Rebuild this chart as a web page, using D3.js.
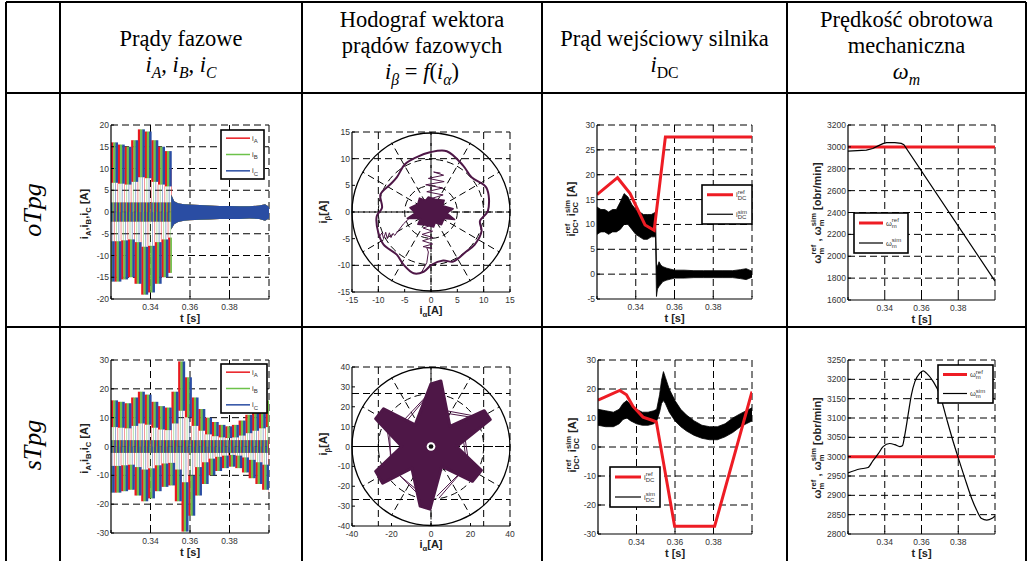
<!DOCTYPE html>
<html>
<head>
<meta charset="utf-8">
<script src="https://cdnjs.cloudflare.com/ajax/libs/d3/7.8.5/d3.min.js"></script>
<style>
  body { margin: 0; background: #fff; }
  svg { display: block; }
</style>
</head>
<body>
<div id="chart"></div>
<script>
// ---- data ----
const rowLabels = ['oTpg', 'sTpg'];

const tTicks = [0.32, 0.34, 0.36, 0.38, 0.40];
const tTickLabels = ['', '0.34', '0.36', '0.38', ''];

// phase currents: peak of every electrical period (A), period (s)
const phaseStart = 0.32;
const phasePeriod1 = 0.0034;
const phaseAmp1 = [16, 15.5, 15, 16.5, 19, 18.5, 16.5, 15, 14, 10];
const phaseEnd1 = 0.3507;
const tail1T = [0.3505, 0.352, 0.354, 0.357, 0.36, 0.365, 0.37, 0.375, 0.38, 0.385, 0.39, 0.395, 0.398, 0.40];
const tail1Hi = [4, 2.5, 2, 1.8, 1.7, 1.6, 1.5, 1.4, 1.4, 1.3, 1.3, 1.5, 1.8, 1.2];
const tail1Lo = [-4, -2.8, -2.3, -2, -1.9, -1.8, -1.7, -1.6, -1.6, -1.6, -1.5, -1.6, -2, -1.5];
const phasePeriod2 = 0.0034;
const phaseAmp2 = [16, 15.5, 15, 17, 19, 18, 15.5, 14, 13.5, 19, 29.5, 24, 17, 13, 10, 8.5, 7.5, 7, 7.5, 9, 11, 13, 15, 16];
const plateauFloor = 0.42;   // lower edge of a conduction plateau, share of its peak
const zeroBand = 2.2;        // ripple of a non-conducting phase (A)
const phaseTicks1 = [-20, -15, -10, -5, 0, 5, 10, 15, 20];
const phaseTicks2 = [-30, -20, -10, 0, 10, 20, 30];

// hodograph, oTpg
const hodo1LoopX = [3.0, 6.1, 7.7, 10.5, 10.8, 9.3, 9.6, 8.3, 6.7, 4.2, 2.3, 0.1, -1.4, -3.3, -5.2, -6.5, -9.0, -10.0, -10.3, -9.3, -9.6, -7.7, -6.5, -4.9, -2.7, -0.2];
const hodo1LoopY = [11.4, 8.7, 6.5, 4.6, 0.2, -1.7, -3.6, -6.1, -7.4, -9.3, -9.1, -9.9, -11.2, -11.5, -9.9, -8.0, -6.1, -3.9, -0.8, 0.8, 3.3, 5.2, 6.5, 9.0, 10.3, 11.2];
const hodo1CoreX = [-4, -2.5, -2.2, -1, -0.5, 0.8, 2.5, 2.2, 4.2, 3, 4.5, 2.5, 2, 0.8, 0.5, -0.8, -2.5, -2, -4.5, -3];
const hodo1CoreY = [0.8, 1.5, 2.6, 2.2, 2.8, 2.4, 2.2, 1.2, 0.6, -0.2, -1.4, -1.2, -2.4, -2, -2.8, -2.5, -2.3, -1.2, -1.2, -0.2];
const hodo1UpX = [0, 2.3, -0.8, 2.2, -1, 2.5, -0.5, 2.4, 0.5, 1.8];
const hodo1UpY = [2.5, 3.2, 3.8, 4.5, 5.1, 5.7, 6.3, 6.9, 7.5, 7.3];
const hodo1DownX = [0, -1.5, 0.3, -1.7, 0.4, -1.6, 0.3, -1.5, 0.2, -0.8, -0.5, -0.8, -1.8];
const hodo1DownY = [-2.5, -3, -3.6, -4.2, -4.8, -5.4, -6, -6.5, -6.8, -6.7, -7.5, -9.5, -11.3];
const hodo1LeftX = [-9.8, -9.3, -9, -8.6, -8.3, -7.9, -7.6, -7.2, -6.9, -5.2, -3.3];
const hodo1LeftY = [-4.6, -3.9, -5, -3.8, -5, -3.9, -4.8, -4, -4.4, -2.2, -0.4];
const hodo1Ticks = [-15, -10, -5, 0, 5, 10, 15];

// hodograph, sTpg
const hodo2StarX = [0, 5, 9.6, 27, 30, 12.9, 25.5, 21, 5.4, -0.5, -5.5, -9.7, -24.5, -28, -14.8, -28, -24, -8];
const hodo2StarY = [31.5, 33, 10.1, 18, 13.5, 0, -12, -17.5, -10, -31.5, -30, -10.9, -18.5, -12.5, 0, 14, 19, 10.9];
const hodo2ChordX1 = [3, 2, 5, 6, 15.5, 16.5, 18, 17, -22.4, -21, -17, -16];
const hodo2ChordY1 = [31, 30, 18.5, 17, 10, 9, -10, -11, 10, 9, -13.4, -14.5];
const hodo2ChordX2 = [-14, -13, 24, 25, 18, 19, 3, 4, -19.8, -20.5, -5.5, -4.5];
const hodo2ChordY2 = [13, 12, 15, 14, -8.4, -7.5, -25, -26, -7.6, -6.5, -25, -24];
const hodo2TicksY = [-40, -30, -20, -10, 0, 10, 20, 30, 40];
const hodo2TicksX = [-40, -20, 0, 20, 40];

// DC current
const idcRef1T = [0.32, 0.3306, 0.3371, 0.3448, 0.3495, 0.3553, 0.40];
const idcRef1V = [16, 19.4, 16.2, 9.9, 8.8, 27.6, 27.6];
const idcSim1T = [0.32, 0.322, 0.324, 0.326, 0.328, 0.330, 0.332, 0.334, 0.336, 0.338, 0.340, 0.342, 0.344, 0.346, 0.348, 0.3495, 0.3502, 0.3507, 0.3512, 0.352, 0.353, 0.354, 0.356, 0.358, 0.36, 0.365, 0.37, 0.375, 0.38, 0.385, 0.39, 0.394, 0.397, 0.40];
const idcSim1Hi = [13.5, 13, 13, 12.5, 13, 13, 14.5, 16.2, 15.5, 14, 13, 12.5, 12, 12, 12, 12.3, 12.5, 2, 1.5, 2.5, 1.8, 1.5, 1.2, 1, 0.8, 0.8, 0.7, 0.7, 0.7, 0.7, 0.7, 0.9, 1.1, 0.6];
const idcSim1Lo = [8, 8.5, 8.5, 8, 8.5, 8.5, 9, 10, 10, 9, 8, 7.5, 7, 7, 7.5, 7.5, 7.5, -4.5, -3, -2.5, -2, -1.5, -1.2, -1, -0.8, -0.8, -0.7, -0.7, -0.7, -0.7, -0.7, -0.9, -1.1, -0.6];
const idcRef2T = [0.32, 0.3313, 0.3348, 0.3382, 0.3434, 0.3477, 0.3503, 0.3598, 0.3806, 0.40];
const idcRef2V = [16.2, 19.5, 18, 14, 10.3, 9.3, 8.7, -27.3, -27.3, 19.1];
const idcSim2T = [0.32, 0.324, 0.328, 0.331, 0.333, 0.335, 0.337, 0.34, 0.343, 0.346, 0.349, 0.3505, 0.352, 0.353, 0.354, 0.355, 0.357, 0.36, 0.363, 0.366, 0.37, 0.374, 0.378, 0.382, 0.386, 0.39, 0.394, 0.397, 0.40];
const idcSim2Hi = [13, 12.5, 12, 13, 15, 16, 14.5, 13, 12, 12, 12.5, 13, 18, 23, 26, 24, 20, 16, 13, 11, 9, 7.5, 7, 7, 8, 10, 11.5, 12.5, 13.5];
const idcSim2Lo = [7.5, 7, 7, 8, 9.5, 10, 9, 8, 7.5, 7.5, 8, 9, 12, 15, 16, 15, 12, 9, 7, 5.5, 4, 3, 2.5, 2.5, 3.5, 5, 7, 8, 9];
const idcTicks1 = [-5, 0, 5, 10, 15, 20, 25, 30];
const idcTicks2 = [-30, -20, -10, 0, 10, 20, 30];

// mechanical speed
const speedRef = 3000;
const speed1T = [0.32, 0.33, 0.3335, 0.3355, 0.339, 0.341, 0.3455, 0.349, 0.3504, 0.40];
const speed1V = [2962, 2971, 2985, 3002, 3030, 3038, 3038, 3032, 3020, 1773];
const speed2T = [0.32, 0.3264, 0.3309, 0.3336, 0.3364, 0.3391, 0.3427, 0.3455, 0.3482, 0.3496, 0.3509, 0.3527, 0.3545, 0.3564, 0.3591, 0.3609, 0.3627, 0.3664, 0.37, 0.3736, 0.3773, 0.38, 0.3836, 0.3873, 0.39, 0.3927, 0.3955, 0.3982, 0.40];
const speed2V = [2958, 2968, 2972, 2990, 3007, 3026, 3034, 3031, 3026, 3028, 3056, 3108, 3160, 3194, 3216, 3222, 3216, 3194, 3160, 3099, 3038, 2997, 2944, 2892, 2862, 2840, 2836, 2840, 2847];
const speedTicks1 = [1600, 1800, 2000, 2200, 2400, 2600, 2800, 3000, 3200];
const speedTicks2 = [2800, 2850, 2900, 2950, 3000, 3050, 3100, 3150, 3200, 3250];

// ---- styles ----
const phaseColors = ['#e8191e', '#6cc24a', '#2a4da3'];
const refColor = '#ee1c24';
const hodoColor = '#4e1747';
const sans = 'Liberation Sans, Arial, sans-serif';
const serif = 'Liberation Serif, Times New Roman, serif';

const W = 1028, H = 561;
const svg = d3.select('#chart').append('svg').attr('width', W).attr('height', H);

// ---- helpers ----
function rich(parent, parts, o) {
  const g = parent.append('g')
    .attr('font-family', o.family).attr('font-weight', o.weight || 'normal')
    .attr('fill', o.fill || '#000');
  const fs = o.size, ss = fs * (o.script || 0.7);
  let x = 0;
  parts.forEach(p => {
    if (p.t) {
      const t = g.append('text').attr('x', x).attr('y', 0).attr('font-size', fs)
        .attr('font-style', p.it ? 'italic' : 'normal').text(p.t.replace(/ /g, '\u00a0'));
      x += t.node().getComputedTextLength();
    }
    if (p.sub || p.sup) {
      let w = 0;
      if (p.sup) {
        const t = g.append('text').attr('x', x).attr('y', -fs * 0.42).attr('font-size', ss)
          .attr('font-style', p.supIt ? 'italic' : 'normal').text(p.sup);
        w = Math.max(w, t.node().getComputedTextLength());
      }
      if (p.sub) {
        const t = g.append('text').attr('x', x).attr('y', fs * (o.subDrop || 0.3)).attr('font-size', ss)
          .attr('font-style', p.subIt ? 'italic' : 'normal').text(p.sub);
        w = Math.max(w, t.node().getComputedTextLength());
      }
      x += w;
    }
  });
  return { g, w: x };
}
function place(r, x, y, rot, anchor) {
  const dx = anchor === 'start' ? 0 : anchor === 'end' ? -r.w : -r.w / 2;
  r.g.attr('transform', `translate(${x},${y}) rotate(${rot || 0}) translate(${dx},0)`);
}

let clipN = 0;
function makeAxes(box, xDom, yDom) {
  const [x0, x1, y0, y1] = box;
  const x = d3.scaleLinear().domain(xDom).range([x0, x1]);
  const y = d3.scaleLinear().domain(yDom).range([y1, y0]);
  const g = svg.append('g');
  const id = 'clip' + (clipN++);
  g.append('clipPath').attr('id', id).append('rect')
    .attr('x', x0).attr('y', y0).attr('width', x1 - x0).attr('height', y1 - y0);
  return { x, y, g, box, id };
}
function grid(ax, gx, gy) {
  const [x0, x1, y0, y1] = ax.box;
  const gg = ax.g.append('g').attr('stroke', '#000').attr('stroke-width', 1)
    .attr('stroke-dasharray', '7,4').attr('fill', 'none');
  gg.selectAll(null).data(gx).join('line')
    .attr('x1', d => ax.x(d)).attr('x2', d => ax.x(d)).attr('y1', y0).attr('y2', y1);
  gg.selectAll(null).data(gy).join('line')
    .attr('y1', d => ax.y(d)).attr('y2', d => ax.y(d)).attr('x1', x0).attr('x2', x1);
}
function frame(ax, xt, xl, yt, yl) {
  const [x0, x1, y0, y1] = ax.box;
  const g = ax.g.append('g');
  g.append('line').attr('x1', x0).attr('x2', x0).attr('y1', y0).attr('y2', y1).attr('stroke', '#000').attr('stroke-width', 1.2);
  g.append('line').attr('x1', x0).attr('x2', x1).attr('y1', y1).attr('y2', y1).attr('stroke', '#000').attr('stroke-width', 1.2);
  g.selectAll(null).data(xt).join('line')
    .attr('x1', d => ax.x(d)).attr('x2', d => ax.x(d)).attr('y1', y1).attr('y2', y1 - 3).attr('stroke', '#000');
  g.selectAll(null).data(yt).join('line')
    .attr('y1', d => ax.y(d)).attr('y2', d => ax.y(d)).attr('x1', x0).attr('x2', x0 + 3).attr('stroke', '#000');
  g.selectAll(null).data(xt).join('text')
    .attr('x', d => ax.x(d)).attr('y', y1 + 11).attr('text-anchor', 'middle')
    .attr('font-family', sans).attr('font-size', 8.5).attr('fill', '#333')
    .text((d, i) => xl[i]);
  g.selectAll(null).data(yt).join('text')
    .attr('x', x0 - 2).attr('y', d => ax.y(d) + 3).attr('text-anchor', 'end')
    .attr('font-family', sans).attr('font-size', 8.5).attr('fill', '#333')
    .text((d, i) => yl[i]);
}
function axisLabels(ax, xParts, xy, yParts, yx, yy) {
  const o = { family: sans, size: 11, weight: 'bold', fill: '#222' };
  const rx = rich(ax.g, xParts, o);
  place(rx, (ax.box[0] + ax.box[1]) / 2, xy, 0);
  const ry = rich(ax.g, yParts, o);
  place(ry, yx, yy, -90);
}
function legend(ax, lb, entries, sample) {
  const g = ax.g.append('g');
  g.append('rect').attr('x', lb[0]).attr('y', lb[2]).attr('width', lb[1] - lb[0]).attr('height', lb[3] - lb[2])
    .attr('fill', '#fff').attr('stroke', '#000').attr('stroke-width', 1.6);
  const h = (lb[3] - lb[2]) / entries.length;
  entries.forEach((e, i) => {
    const cy = lb[2] + h * (i + 0.5);
    g.append('line').attr('x1', lb[0] + sample[0]).attr('x2', lb[0] + sample[1])
      .attr('y1', cy).attr('y2', cy).attr('stroke', e.color).attr('stroke-width', e.width);
    const r = rich(g, e.label, { family: sans, size: 7.5, fill: '#333', script: 0.8 });
    place(r, lb[0] + sample[2], cy + 2.5, 0, 'start');
  });
}
const zip = (a, b) => a.map((v, i) => [v, b[i]]);

// ---- table ----
const colX = [6, 60, 302, 542, 787, 1026];
const rowY = [2, 93, 327, 563];
const tbl = svg.append('g').attr('stroke', '#000').attr('stroke-width', 2);
tbl.selectAll(null).data(colX).join('line')
  .attr('x1', d => d).attr('x2', d => d).attr('y1', rowY[0]).attr('y2', rowY[3]);
tbl.selectAll(null).data(rowY).join('line')
  .attr('y1', d => d).attr('y2', d => d).attr('x1', colX[0]).attr('x2', colX[5]);

const headers = [
  [[{ t: 'Prądy fazowe' }],
   [{ t: 'i', it: 1, sub: 'A', subIt: 1 }, { t: ', ' }, { t: 'i', it: 1, sub: 'B', subIt: 1 }, { t: ', ' }, { t: 'i', it: 1, sub: 'C', subIt: 1 }]],
  [[{ t: 'Hodograf wektora' }], [{ t: 'prądów fazowych' }],
   [{ t: 'i', it: 1, sub: 'β', subIt: 1 }, { t: ' = ' }, { t: 'f', it: 1 }, { t: '(' }, { t: 'i', it: 1, sub: 'α', subIt: 1 }, { t: ')' }]],
  [[{ t: 'Prąd wejściowy silnika' }], [{ t: 'i', it: 1, sub: 'DC' }]],
  [[{ t: 'Prędkość obrotowa' }], [{ t: 'mechaniczna' }], [{ t: 'ω', it: 1, sub: 'm', subIt: 1 }]]
];
headers.forEach((lines, c) => {
  const cx = (colX[c + 1] + colX[c + 2]) / 2;
  const base = lines.length === 2 ? [46, 72] : [27, 53, 79];
  lines.forEach((parts, i) => {
    const r = rich(svg, parts, { family: serif, size: 22.5, subDrop: 0.25 });
    place(r, cx, base[i], 0);
  });
});
rowLabels.forEach((lab, i) => {
  const cy = (rowY[i + 1] + rowY[i + 2]) / 2;
  const r = rich(svg, [{ t: lab, it: 1 }], { family: serif, size: 26 });
  place(r, 41, cy, -90);
});

// ---- phase currents ----
function phasePlot(box, yDom, yt, period, amps, tEnd, legBox) {
  const ax = makeAxes(box, [0.32, 0.40], yDom);
  grid(ax, [0.34, 0.36, 0.38, 0.40], yt.filter(v => v > yDom[0]));
  const dg = ax.g.append('g').attr('clip-path', `url(#${ax.id})`);
  const pattern = [[0, 1 / 3, 1], [1 / 3, 1 / 2, 0], [1 / 2, 5 / 6, -1], [5 / 6, 1, 0]];
  phaseColors.forEach((col, ph) => {
    const rects = [];
    for (let k = -1; k < amps.length; k++) {
      const a = amps[Math.max(k, 0)];
      const ts = phaseStart + (k + ph / 3) * period;
      pattern.forEach(([f0, f1, s]) => {
        const t0 = ts + f0 * period, t1 = Math.min(ts + f1 * period, tEnd);
        if (t1 <= t0) return;
        const lo = s === 0 ? -zeroBand : s > 0 ? a * plateauFloor : -a;
        const hi = s === 0 ? zeroBand : s > 0 ? a : -a * plateauFloor;
        rects.push({ t0, t1, lo, hi });
      });
    }
    dg.selectAll(null).data(rects).join('line')
      .attr('x1', d => ax.x(d.t0)).attr('x2', d => ax.x(d.t0))
      .attr('y1', ax.y(0)).attr('y2', d => ax.y(d.hi > 0 ? d.lo : d.hi))
      .attr('stroke', col).attr('stroke-width', 0.8).attr('opacity', 0.6);
    dg.selectAll(null).data(rects).join('rect')
      .attr('x', d => ax.x(d.t0)).attr('width', d => ax.x(d.t1) - ax.x(d.t0) + 0.3)
      .attr('y', d => ax.y(d.hi)).attr('height', d => ax.y(d.lo) - ax.y(d.hi))
      .attr('fill', col);
  });
  return { ax, dg };
}
function phaseDecor(p, yt, legBox) {
  const ax = p.ax, box = ax.box;
  frame(ax, tTicks, tTickLabels, yt, yt.map(String));
  axisLabels(ax, [{ t: 't [s]' }], box[3] + 23,
    [{ t: 'i', sub: 'A' }, { t: ',' }, { t: 'i', sub: 'B' }, { t: ',' }, { t: 'i', sub: 'C' }, { t: ' [A]' }],
    box[0] - 23, (box[2] + box[3]) / 2 + 2);
  legend(ax, legBox, [
    { color: phaseColors[0], width: 1.5, label: [{ t: 'i', sub: 'A' }] },
    { color: phaseColors[1], width: 1.5, label: [{ t: 'i', sub: 'B' }] },
    { color: phaseColors[2], width: 1.5, label: [{ t: 'i', sub: 'C' }] }
  ], [5, 29, 31]);
}
const p1 = phasePlot([111, 269, 125, 299], [-20, 20], phaseTicks1, phasePeriod1, phaseAmp1, phaseEnd1);
phaseColors.forEach(col => {
  p1.dg.append('path')
    .attr('d', d3.area().x(d => p1.ax.x(d[0])).y0(d => p1.ax.y(d[2])).y1(d => p1.ax.y(d[1]))(tail1T.map((t, i) => [t, tail1Hi[i], tail1Lo[i]])))
    .attr('fill', col);
});
phaseDecor(p1, phaseTicks1, [221, 264, 130, 179]);
const p2 = phasePlot([111, 269, 360, 533], [-30, 30], phaseTicks2, phasePeriod2, phaseAmp2, 0.40);
phaseDecor(p2, phaseTicks2, [221, 267, 364, 413]);

// ---- hodographs ----
function polarGrid(ax, R) {
  const cx = ax.x(0), cy = ax.y(0), k = ax.x(1) - ax.x(0);
  const gg = ax.g.append('g').attr('fill', 'none').attr('stroke', '#000');
  gg.selectAll(null).data([R / 3, 2 * R / 3]).join('circle')
    .attr('cx', cx).attr('cy', cy).attr('r', d => d * k).attr('stroke-dasharray', '7,4');
  gg.selectAll(null).data(d3.range(0, 360, 30)).join('line')
    .attr('x1', cx).attr('y1', cy)
    .attr('x2', d => ax.x(R * Math.cos(d * Math.PI / 180)))
    .attr('y2', d => ax.y(R * Math.sin(d * Math.PI / 180)))
    .attr('stroke-dasharray', '7,4');
  gg.append('circle').attr('cx', cx).attr('cy', cy).attr('r', R * k).attr('stroke-width', 1.3);
}
function hodoFrame(ax, R) {
  grid(ax, [-2 * R / 3, 0, 2 * R / 3, R], [-2 * R / 3, 0, 2 * R / 3, R]);
  polarGrid(ax, R);
}
// oTpg
{
  const ax = makeAxes([352, 510, 132, 292], [-15, 15], [-15, 15]);
  hodoFrame(ax, 15);
  const dg = ax.g.append('g').attr('clip-path', `url(#${ax.id})`);
  const ln = d3.line().x(d => ax.x(d[0])).y(d => ax.y(d[1]));
  dg.append('path').attr('d', ln.curve(d3.curveCatmullRomClosed)(zip(hodo1LoopX, hodo1LoopY)))
    .attr('fill', 'none').attr('stroke', hodoColor).attr('stroke-width', 2);
  ln.curve(d3.curveLinear);
  dg.append('path').attr('d', ln(zip(hodo1CoreX, hodo1CoreY)) + 'Z')
    .attr('fill', hodoColor).attr('stroke', hodoColor).attr('stroke-width', 1.5).attr('stroke-linejoin', 'round');
  [[hodo1UpX, hodo1UpY], [hodo1DownX, hodo1DownY], [hodo1LeftX, hodo1LeftY]].forEach(([xs, ys]) => {
    dg.append('path').attr('d', ln(zip(xs, ys))).attr('fill', 'none').attr('stroke', hodoColor).attr('stroke-width', 1);
  });
  frame(ax, hodo1Ticks, hodo1Ticks.map(String), hodo1Ticks, hodo1Ticks.map(String));
  axisLabels(ax, [{ t: 'i', sub: 'α' }, { t: '[A]' }], 314, [{ t: 'i', sub: 'β' }, { t: '[A]' }], 327, 212);
}
// sTpg
{
  const ax = makeAxes([352, 510, 367, 526], [-40, 40], [-40, 40]);
  hodoFrame(ax, 40);
  const dg = ax.g.append('g').attr('clip-path', `url(#${ax.id})`);
  const ln = d3.line().x(d => ax.x(d[0])).y(d => ax.y(d[1]));
  dg.selectAll(null).data(hodo2ChordX1).join('line')
    .attr('x1', d => ax.x(d)).attr('y1', (d, i) => ax.y(hodo2ChordY1[i]))
    .attr('x2', (d, i) => ax.x(hodo2ChordX2[i])).attr('y2', (d, i) => ax.y(hodo2ChordY2[i]))
    .attr('stroke', hodoColor).attr('stroke-width', 1);
  dg.append('path').attr('d', ln(zip(hodo2StarX, hodo2StarY)) + 'Z')
    .attr('fill', hodoColor).attr('stroke', hodoColor).attr('stroke-width', 3).attr('stroke-linejoin', 'round');
  dg.append('circle').attr('cx', ax.x(0)).attr('cy', ax.y(0)).attr('r', ax.x(2.2) - ax.x(0)).attr('fill', '#fff');
  dg.append('circle').attr('cx', ax.x(0)).attr('cy', ax.y(0)).attr('r', ax.x(1.2) - ax.x(0)).attr('fill', '#111');
  frame(ax, hodo2TicksX, hodo2TicksX.map(String), hodo2TicksY, hodo2TicksY.map(String));
  axisLabels(ax, [{ t: 'i', sub: 'α' }, { t: '[A]' }], 548, [{ t: 'i', sub: 'β' }, { t: '[A]' }], 327, 444);
}

// ---- DC current ----
function idcPlot(box, yDom, yt, refT, refV, simT, simHi, simLo, legBox, yLabY) {
  const ax = makeAxes(box, [0.32, 0.40], yDom);
  grid(ax, [0.34, 0.36, 0.38, 0.40], yt.filter(v => v > yDom[0]));
  const dg = ax.g.append('g').attr('clip-path', `url(#${ax.id})`);
  dg.append('path')
    .attr('d', d3.area().x((d, i) => ax.x(simT[i])).y0((d, i) => ax.y(simLo[i])).y1((d, i) => ax.y(simHi[i]))(simT))
    .attr('fill', '#000').attr('stroke', '#000').attr('stroke-width', 0.8);
  dg.append('path').attr('d', d3.line().x(d => ax.x(d[0])).y(d => ax.y(d[1]))(zip(refT, refV)))
    .attr('fill', 'none').attr('stroke', refColor).attr('stroke-width', 3);
  frame(ax, tTicks, tTickLabels, yt, yt.map(String));
  axisLabels(ax, [{ t: 't [s]' }], box[3] + 23,
    [{ t: 'i', sub: 'DC', sup: 'ref' }, { t: ', ' }, { t: 'i', sub: 'DC', sup: 'sim' }, { t: ' [A]' }],
    box[0] - 22, yLabY);
  legend(ax, legBox, [
    { color: refColor, width: 3, label: [{ t: 'i', sub: 'DC', sup: 'ref' }] },
    { color: '#000', width: 1.2, label: [{ t: 'i', sub: 'DC', sup: 'sim' }] }
  ], [5, 31, 34]);
}
idcPlot([597, 752, 125, 299], [-5, 30], idcTicks1, idcRef1T, idcRef1V, idcSim1T, idcSim1Hi, idcSim1Lo, [702, 752, 185, 224], 209);
idcPlot([598, 752, 360, 534], [-30, 30], idcTicks2, idcRef2T, idcRef2V, idcSim2T, idcSim2Hi, idcSim2Lo, [610, 660, 467, 507], 445);

// ---- speed ----
function speedPlot(box, yDom, yt, simT, simV, curve, legBox, yLabY) {
  const ax = makeAxes(box, [0.32, 0.40], yDom);
  grid(ax, [0.34, 0.36, 0.38, 0.40], yt.filter(v => v > yDom[0]));
  const dg = ax.g.append('g').attr('clip-path', `url(#${ax.id})`);
  dg.append('line').attr('x1', ax.x(0.32)).attr('x2', ax.x(0.40)).attr('y1', ax.y(speedRef)).attr('y2', ax.y(speedRef))
    .attr('stroke', refColor).attr('stroke-width', 3);
  dg.append('path').attr('d', d3.line().curve(curve).x(d => ax.x(d[0])).y(d => ax.y(d[1]))(zip(simT, simV)))
    .attr('fill', 'none').attr('stroke', '#000').attr('stroke-width', 1.2);
  frame(ax, tTicks, tTickLabels, yt, yt.map(String));
  axisLabels(ax, [{ t: 't [s]' }], box[3] + 23,
    [{ t: 'ω', sub: 'm', sup: 'ref' }, { t: ' , ' }, { t: 'ω', sub: 'm', sup: 'sim' }, { t: ' [obr/min]' }],
    box[0] - 27, yLabY);
  legend(ax, legBox, [
    { color: refColor, width: 3, label: [{ t: 'ω', sub: 'm', sup: 'ref' }] },
    { color: '#000', width: 1.2, label: [{ t: 'ω', sub: 'm', sup: 'sim' }] }
  ], [5, 29, 32]);
}
speedPlot([848, 995, 125, 300], [1600, 3200], speedTicks1, speed1T, speed1V, d3.curveLinear, [854, 908, 213, 253], 213);
speedPlot([848, 995, 360, 534], [2800, 3250], speedTicks2, speed2T, speed2V, d3.curveMonotoneX, [938, 993, 365, 403], 448);
</script>
</body>
</html>
